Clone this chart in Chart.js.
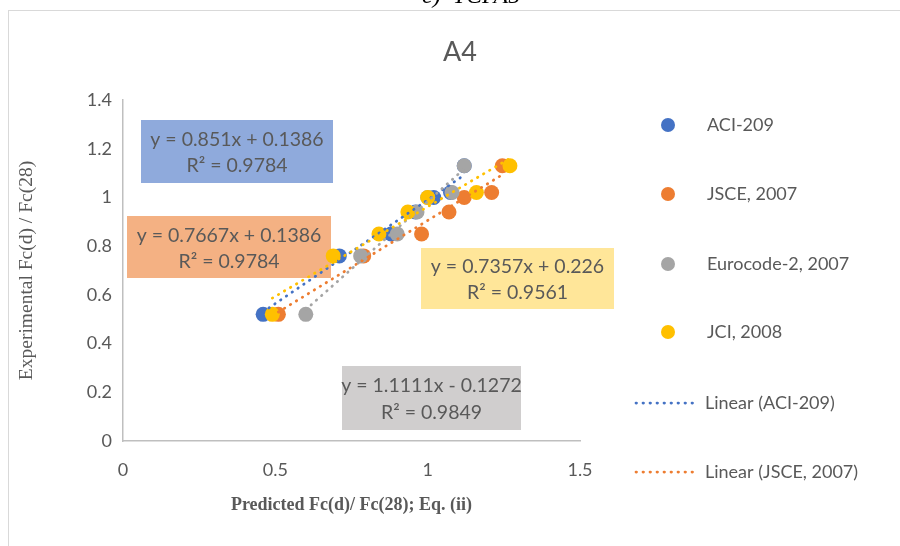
<!DOCTYPE html>
<html>
<head>
<meta charset="utf-8">
<script src="https://cdn.jsdelivr.net/npm/chart.js@4.4.0/dist/chart.umd.min.js"></script>
<style>
    html, body { margin: 0; padding: 0; background: #fff; }
    #wrap { position: relative; width: 900px; height: 546px; overflow: hidden; }
</style>
</head>
<body>
<div id="wrap"><canvas id="chart" width="900" height="546"></canvas></div>
<script>
// Series data
const seriesNames = ['ACI-209', 'JSCE, 2007', 'Eurocode-2, 2007', 'JCI, 2008'];
const seriesColors = ['#4472C4', '#ED7D31', '#A5A5A5', '#FFC000'];
const experimental = [0.52, 0.76, 0.85, 0.94, 1.0, 1.02, 1.13];
const aciPredicted = [0.46, 0.71, 0.88, 0.96, 1.02, 1.075, 1.12];
const jscePredicted = [0.51, 0.79, 0.98, 1.07, 1.12, 1.21, 1.245];
const euroPredicted = [0.60, 0.78, 0.90, 0.965, 1.0, 1.08, 1.12];
const jciPredicted = [0.49, 0.69, 0.84, 0.935, 1.0, 1.16, 1.27];

// Trendline equations shown on the chart
const trendSlope = [0.851, 0.7667, 1.1111, 0.7357];
const trendIntercept = [0.1386, 0.1386, -0.1272, 0.226];
const trendR2 = ['0.9784', '0.9784', '0.9849', '0.9561'];

const xTicks = [0, 0.5, 1, 1.5];
const yTicks = [0, 0.2, 0.4, 0.6, 0.8, 1, 1.2, 1.4];

// Label box layout (blue, orange, gray, yellow)
const boxColors = ['#8FAADC', '#F4B183', '#D0CECE', '#FFE699'];
const labelBoxes = [
    { x: 141, y: 120, w: 192, h: 63 },
    { x: 127, y: 216, w: 204, h: 62 },
    { x: 342, y: 366, w: 179, h: 64 },
    { x: 421, y: 248, w: 193, h: 61 }
];

const TEXT = '#595959';
const predicted = [aciPredicted, jscePredicted, euroPredicted, jciPredicted];

const scatterSets = predicted.map((xs, i) => ({
    type: 'scatter',
    label: seriesNames[i],
    data: xs.map((x, k) => ({ x: x, y: experimental[k] })),
    backgroundColor: seriesColors[i],
    borderColor: seriesColors[i],
    pointRadius: 7.5,
    pointHoverRadius: 7.5,
    borderWidth: 0,
    order: 8 - i
}));

const trendSets = predicted.map((xs, i) => {
    const lo = Math.min(...xs), hi = Math.max(...xs);
    return {
        type: 'line',
        label: 'Linear (' + seriesNames[i] + ')',
        data: [lo, hi].map(x => ({ x: x, y: trendSlope[i] * x + trendIntercept[i] })),
        borderColor: seriesColors[i],
        borderWidth: 2.75,
        borderDash: [0.5, 6.5],
        borderCapStyle: 'round',
        pointRadius: 0,
        fill: false,
        order: 4 - i
    };
});

function equationText(i) {
    const b = trendIntercept[i];
    return 'y = ' + trendSlope[i] + 'x ' + (b < 0 ? '- ' : '+ ') + Math.abs(b);
}

const decorPlugin = {
    id: 'decor',
    beforeDraw(chart) {
        const ctx = chart.ctx;
        ctx.save();
        ctx.fillStyle = '#fff';
        ctx.fillRect(0, 0, chart.width, chart.height);
        ctx.strokeStyle = '#D9D9D9';
        ctx.lineWidth = 1;
        ctx.strokeRect(8.5, 10.5, 960, 600);
        // caption of the figure above, cut off
        ctx.fillStyle = '#000';
        ctx.font = 'italic 24px "Liberation Serif"';
        ctx.textBaseline = 'alphabetic';
        ctx.fillText('c)  TCFA5', 422, 3);
        // title
        ctx.fillStyle = TEXT;
        ctx.font = '27px Lato';
        ctx.textAlign = 'center';
        ctx.textBaseline = 'middle';
        ctx.fillText('A4', 460, 52);
        // trendline label boxes
        ctx.font = '19.5px Lato';
        labelBoxes.forEach((b, i) => {
            ctx.fillStyle = boxColors[i];
            ctx.fillRect(b.x, b.y, b.w, b.h);
            ctx.fillStyle = TEXT;
            const cx = b.x + b.w / 2;
            ctx.fillText(equationText(i), cx, b.y + b.h * 0.31);
            ctx.fillText('R\u00B2 = ' + trendR2[i], cx, b.y + b.h * 0.73);
        });
        ctx.restore();
    },
    afterDraw(chart) {
        const ctx = chart.ctx;
        ctx.save();
        ctx.font = '18px Lato';
        ctx.textBaseline = 'middle';
        ctx.textAlign = 'left';
        const rows = [125, 194, 264, 332, 403, 472];
        rows.forEach((y, r) => {
            if (r < 4) {
                ctx.fillStyle = seriesColors[r];
                ctx.beginPath();
                ctx.arc(668, y, 7, 0, Math.PI * 2);
                ctx.fill();
                ctx.fillStyle = TEXT;
                ctx.fillText(seriesNames[r], 707, y);
            } else {
                const k = r - 4;
                ctx.strokeStyle = seriesColors[k];
                ctx.lineWidth = 2.75;
                ctx.lineCap = 'round';
                ctx.setLineDash([0.5, 6.5]);
                ctx.beginPath();
                ctx.moveTo(636, y);
                ctx.lineTo(699, y);
                ctx.stroke();
                ctx.setLineDash([]);
                ctx.fillStyle = TEXT;
                ctx.fillText('Linear (' + seriesNames[k] + ')', 705, y);
            }
        });
        ctx.restore();
    }
};

new Chart(document.getElementById('chart'), {
    data: { datasets: scatterSets.concat(trendSets) },
    plugins: [decorPlugin],
    options: {
        responsive: false,
        animation: false,
        layout: { padding: { left: 0, right: 320, top: 100, bottom: 0 } },
        plugins: {
            legend: { display: false },
            tooltip: { enabled: false }
        },
        scales: {
            x: {
                type: 'linear',
                min: 0,
                max: 1.5,
                afterBuildTicks: s => { s.ticks = xTicks.map(v => ({ value: v })); },
                afterFit: s => { s.height = 105; },
                grid: { display: false, drawTicks: false },
                border: { display: true, color: '#BFBFBF', width: 1.5 },
                ticks: { color: TEXT, font: { family: 'Lato', size: 18 }, padding: 18, callback: v => String(v) },
                title: {
                    display: true,
                    text: 'Predicted Fc(d)/ Fc(28); Eq. (ii)',
                    color: TEXT,
                    font: { family: 'Liberation Serif', size: 18, weight: 'bold' },
                    padding: { top: 0, bottom: 30 }
                }
            },
            y: {
                type: 'linear',
                min: 0,
                max: 1.4,
                afterBuildTicks: s => { s.ticks = yTicks.map(v => ({ value: v })); },
                afterFit: s => { s.width = 123; },
                grid: { display: false, drawTicks: false },
                border: { display: true, color: '#BFBFBF', width: 1.5 },
                ticks: { color: TEXT, font: { family: 'Lato', size: 18 }, padding: 11, callback: v => String(v) },
                title: {
                    display: true,
                    text: 'Experimental Fc(d) / Fc(28)',
                    color: TEXT,
                    font: { family: 'Liberation Serif', size: 19.5 },
                    padding: { top: 15, bottom: 0 }
                }
            }
        }
    }
});
</script>
</body>
</html>
